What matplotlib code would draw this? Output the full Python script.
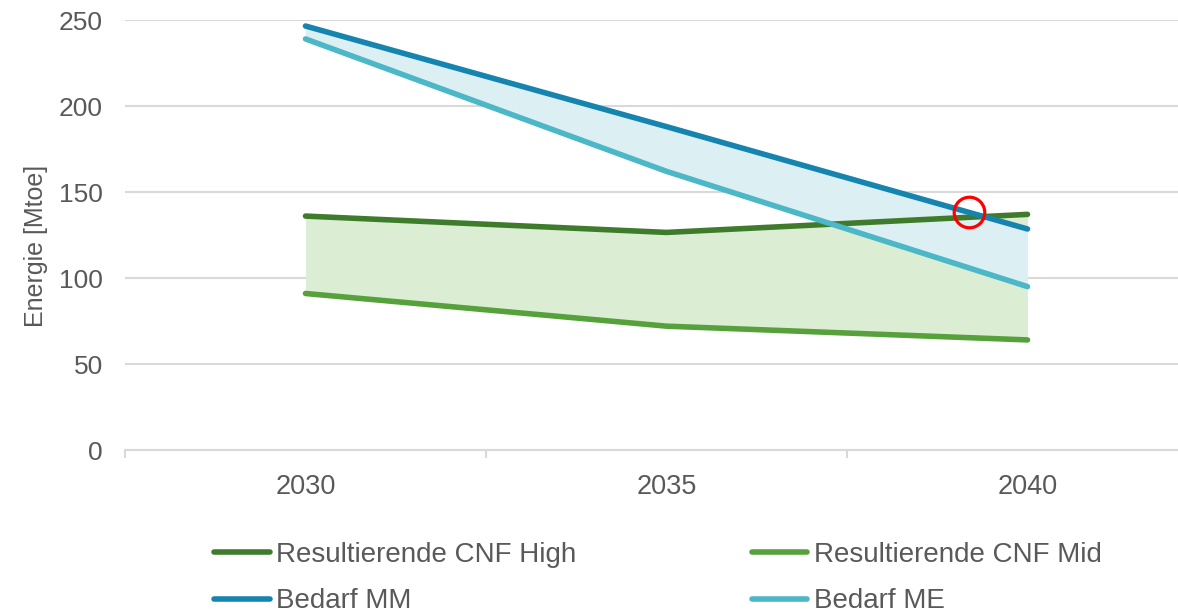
import numpy as np
import matplotlib.pyplot as plt

plt.rcParams["font.family"] = ["Liberation Sans", "DejaVu Sans"]

years = ["2030", "2035", "2040"]
cnf_high = [136, 126.5, 137]
cnf_mid = [91, 72, 64]
bedarf_mm = [246.5, 188, 128.5]
bedarf_me = [239, 162, 95]
circle_pos = (1.837, 138.5)

c_high = "#3e7b2b"
c_mid = "#56a13b"
c_mm = "#1584ae"
c_me = "#4bb7c7"
grey = "#595959"

fig = plt.figure(figsize=(11.78, 6.11), dpi=100)
ax = fig.add_axes([125 / 1178, 1 - 450 / 611, (1208 - 125) / 1178, 430 / 611])

x = np.arange(len(years))
ax.fill_between(x, cnf_mid, cnf_high, color="#dbeed3", lw=0)
ax.fill_between(x, bedarf_me, bedarf_mm, color="#dcf0f4", lw=0)

l1, = ax.plot(x, cnf_high, color=c_high, lw=4, solid_capstyle="round", label="Resultierende CNF High")
l2, = ax.plot(x, cnf_mid, color=c_mid, lw=4, solid_capstyle="round", label="Resultierende CNF Mid")
l3, = ax.plot(x, bedarf_mm, color=c_mm, lw=4, solid_capstyle="round", label="Bedarf MM")
l4, = ax.plot(x, bedarf_me, color=c_me, lw=4, solid_capstyle="round", label="Bedarf ME")

ax.plot([circle_pos[0]], [circle_pos[1]], "o", ms=22, mfc="none", mec="#ff0000", mew=2.3)

ax.set_xlim(-0.5, 2.5)
ax.set_ylim(0, 250)
ax.set_yticks([0, 50, 100, 150, 200, 250])
ax.set_xticks(x)
ax.set_xticklabels(years)
ax.set_xticks([-0.5, 0.5, 1.5, 2.5], minor=True)
ax.grid(axis="y", color="#d9d9d9", lw=1.5)
ax.set_axisbelow(True)
for s in ["left", "right", "top"]:
    ax.spines[s].set_visible(False)
ax.spines["bottom"].set_color("#d9d9d9")
ax.spines["bottom"].set_linewidth(1.5)
ax.tick_params(axis="y", length=0, pad=16, labelsize=19, labelcolor=grey)
ax.tick_params(axis="x", which="major", length=0, pad=17, labelsize=19.5, labelcolor=grey)
ax.tick_params(axis="x", which="minor", length=6, color="#d9d9d9", width=1.5)
ax.set_ylabel("Energie [Mtoe]", fontsize=18, color=grey)
ax.yaxis.set_label_coords(-0.071, 0.474)

leg = fig.legend(handles=[l1, l3, l2, l4], ncol=2, loc="upper left",
                 bbox_to_anchor=(214 / 1178, 1 - 542 / 611), frameon=False,
                 fontsize=20, handlelength=2.0, handletextpad=0.25,
                 columnspacing=6.3, labelspacing=0.73, borderaxespad=0, borderpad=0)
for t in leg.get_texts():
    t.set_color(grey)

fig.savefig("out.png", dpi=100)
